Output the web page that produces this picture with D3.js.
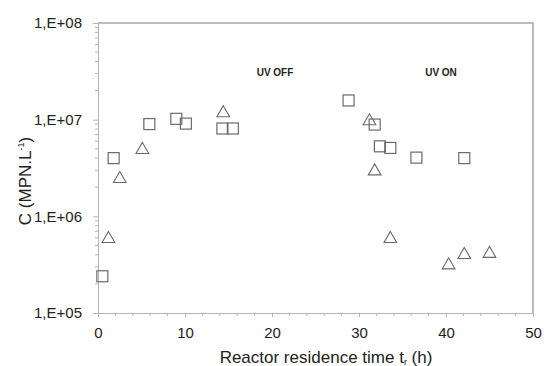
<!DOCTYPE html>
<html>
<head>
<meta charset="utf-8">
<script src="https://cdn.jsdelivr.net/npm/d3@7"></script>
<style>
  body { margin: 0; background: #fff; }
  text { font-family: "Liberation Sans", Arial, sans-serif; }
</style>
</head>
<body>
<div id="chart"></div>
<script>
// squares
const sqTime = [0.5, 1.8, 5.9, 9.0, 10.1, 14.3, 15.5, 28.8, 31.8, 32.4, 33.6, 36.6, 42.1];
const sqConc = [2.4e5, 4.0e6, 9.0e6, 1.02e7, 9.1e6, 8.1e6, 8.1e6, 1.58e7, 8.9e6, 5.3e6, 5.1e6, 4.05e6, 4.0e6];
// triangles
const trTime = [1.2, 2.5, 5.1, 14.4, 31.2, 31.8, 33.6, 40.3, 42.1, 45.0];
const trConc = [6.0e5, 2.5e6, 5.0e6, 1.2e7, 9.9e6, 3.0e6, 6.0e5, 3.2e5, 4.1e5, 4.2e5];

const yTicks = [1e5, 1e6, 1e7, 1e8];
const yTickLabels = ["1,E+05", "1,E+06", "1,E+07", "1,E+08"];
const xTicks = [0, 10, 20, 30, 40, 50];

const width = 544;
const height = 366;
const margin = { top: 23, bottom: 53, left: 98, right: 11 };

const svg = d3.select('#chart')
  .append('svg')
  .attr('width', width)
  .attr('height', height);

const x = d3.scaleLinear()
  .domain([0, 50])
  .range([margin.left, width - margin.right]);

const y = d3.scaleLog()
  .domain([1e5, 1e8])
  .range([height - margin.bottom, margin.top]);

const axisColor = '#b4b4b4';

// frame: top and right
svg.append('path')
  .attr('d', `M${x(0)},${y(1e8)}H${x(50)}V${y(1e5)}`)
  .attr('fill', 'none')
  .attr('stroke', '#a8a8a8')
  .attr('stroke-width', 1.5);

// y minor ticks
const yMinor = [];
for (let e = 5; e < 8; e++) {
  for (let m = 2; m <= 9; m++) yMinor.push(m * Math.pow(10, e));
}

function yAxis(g) {
  g.attr('transform', `translate(${x(0)},0)`)
    .call(d3.axisLeft(y).tickValues(yTicks).tickSize(5)
      .tickFormat((d, i) => yTickLabels[i]).tickPadding(11))
    .attr('font-size', '15px')
    .attr('font-family', '"Liberation Sans", Arial, sans-serif');
  g.select('.domain').attr('stroke', axisColor);
  g.selectAll('.tick line').attr('stroke', axisColor);
  g.selectAll('.tick text').attr('fill', '#222');
  g.selectAll('.minor')
    .data(yMinor)
    .join('line')
    .attr('class', 'minor')
    .attr('x1', -3).attr('x2', 0)
    .attr('y1', d => y(d)).attr('y2', d => y(d))
    .attr('stroke', axisColor);
}

function xAxis(g) {
  g.attr('transform', `translate(0,${y(1e5)})`)
    .call(d3.axisBottom(x).tickValues(xTicks).tickSize(4).tickPadding(10))
    .attr('font-size', '15px')
    .attr('font-family', '"Liberation Sans", Arial, sans-serif');
  g.select('.domain').attr('stroke', axisColor);
  g.selectAll('.tick line').attr('stroke', axisColor);
  g.selectAll('.tick text').attr('fill', '#222');
  g.selectAll('.minor')
    .data(d3.range(2, 50, 2).filter(d => d % 10 !== 0))
    .join('line')
    .attr('class', 'minor')
    .attr('y1', 0).attr('y2', 3)
    .attr('x1', d => x(d)).attr('x2', d => x(d))
    .attr('stroke', axisColor);
}

svg.append('g').call(xAxis);
svg.append('g').call(yAxis);

const squares = sqTime.map((t, i) => ({ t, c: sqConc[i] }));
const triangles = trTime.map((t, i) => ({ t, c: trConc[i] }));

svg.append('g')
  .selectAll('rect')
  .data(squares)
  .join('rect')
  .attr('x', d => x(d.t) - 5.5)
  .attr('y', d => y(d.c) - 5.5)
  .attr('width', 11)
  .attr('height', 11)
  .attr('fill', 'none')
  .attr('stroke', '#6a6a6a')
  .attr('stroke-width', 1.2);

const tri = d3.symbol(d3.symbolTriangle, 70);
svg.append('g')
  .selectAll('path')
  .data(triangles)
  .join('path')
  .attr('d', tri)
  .attr('transform', d => `translate(${x(d.t)},${y(d.c) + 1})`)
  .attr('fill', 'none')
  .attr('stroke', '#6a6a6a')
  .attr('stroke-width', 1.1);

// annotations
svg.append('text')
  .attr('x', 275).attr('y', 76)
  .attr('text-anchor', 'middle')
  .attr('font-family', '"Open Sans", sans-serif')
  .attr('font-size', '10px')
  .attr('font-weight', 600)
  .attr('fill', '#222')
  .text('UV OFF');
svg.append('text')
  .attr('x', 441).attr('y', 76)
  .attr('text-anchor', 'middle')
  .attr('font-family', '"Open Sans", sans-serif')
  .attr('font-size', '10px')
  .attr('font-weight', 600)
  .attr('fill', '#222')
  .text('UV ON');

// axis titles
const xt = svg.append('text')
  .attr('x', 326).attr('y', 363)
  .attr('text-anchor', 'middle')
  .attr('font-size', '17px')
  .attr('fill', '#222');
xt.append('tspan').text('Reactor residence time t');
xt.append('tspan').attr('font-size', '9px').attr('dy', 2).text('r');
xt.append('tspan').attr('dy', -2).text(' (h)');

const yt = svg.append('text')
  .attr('transform', 'translate(31,181) rotate(-90)')
  .attr('text-anchor', 'middle')
  .attr('font-size', '17px')
  .attr('fill', '#222');
yt.append('tspan').text('C (MPN.L');
yt.append('tspan').attr('font-size', '9px').attr('dy', -7).text('-1');
yt.append('tspan').attr('dy', 7).text(')');
</script>
</body>
</html>
